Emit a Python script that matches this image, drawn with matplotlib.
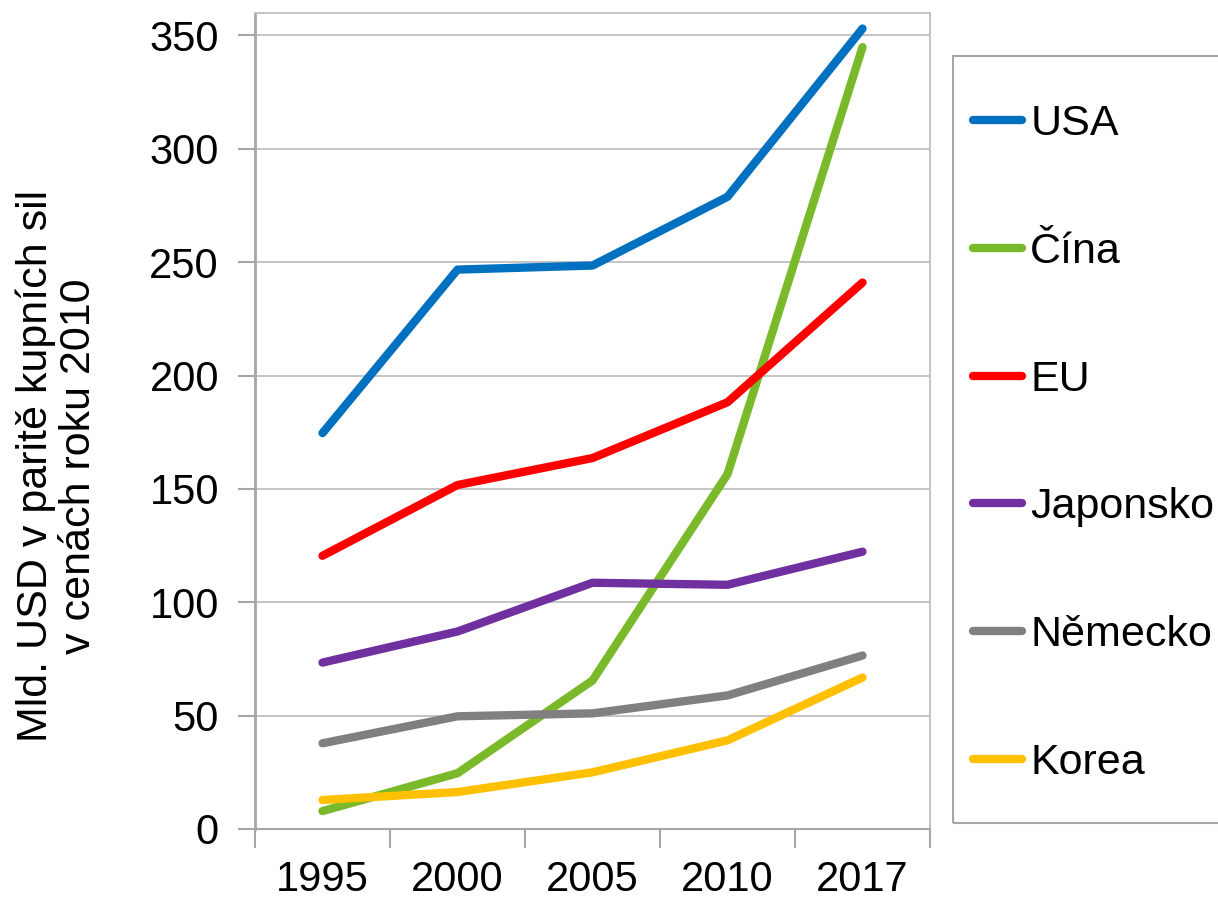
import matplotlib
matplotlib.use("Agg")
import matplotlib.pyplot as plt
from matplotlib.patches import Rectangle
import numpy as np

plt.rcParams['font.family'] = ['Liberation Sans', 'DejaVu Sans']

years = ["1995", "2000", "2005", "2010", "2017"]
usa = [174.6, 246.7, 248.5, 278.8, 353.0]
cina = [7.9, 24.6, 65.5, 156.5, 344.8]
eu = [120.5, 151.7, 163.6, 188.2, 241.0]
japonsko = [73.4, 87.1, 108.6, 107.7, 122.3]
nemecko = [37.8, 49.7, 51.0, 58.9, 76.5]
korea = [12.8, 16.3, 25.0, 39.1, 66.8]

series = [
    ("USA", usa, "#0070C0"),
    ("Čína", cina, "#7AB929"),
    ("EU", eu, "#FF0000"),
    ("Japonsko", japonsko, "#7030A0"),
    ("Německo", nemecko, "#808080"),
    ("Korea", korea, "#FFC000"),
]

W, H = 1218, 899
fig = plt.figure(figsize=(W/100, H/100), dpi=100)
ax = fig.add_axes([255/W, 1 - 829/H, (930-255)/W, (829-12.7)/H])

x = np.arange(len(years))
handles = []
for name, vals, col in series:
    h, = ax.plot(x, vals, color=col, lw=6, solid_capstyle='round', solid_joinstyle='round', label=name)
    handles.append(h)

ax.set_xlim(-0.5, len(years) - 0.5)
ax.set_ylim(0, 360)
ax.set_yticks(np.arange(0, 351, 50))
ax.set_xticks(x)
ax.set_xticklabels(years)
ax.set_xticks(np.arange(-0.5, len(years), 1.0), minor=True)
ax.tick_params(axis='x', which='major', length=0, labelsize=30, pad=22)
ax.tick_params(axis='x', which='minor', length=14, width=1.5, color='#A6A6A6')
ax.tick_params(axis='y', which='major', length=12, width=1.5, color='#A6A6A6', labelsize=30, pad=14)
ax.grid(axis='y', color='#BFBFBF', lw=1.3)
ax.set_axisbelow(True)
for s in ax.spines.values():
    s.set_color('#BFBFBF')
    s.set_linewidth(1.3)
ax.spines['left'].set_color('#A6A6A6')
ax.spines['left'].set_linewidth(2)
ax.spines['bottom'].set_color('#A6A6A6')
ax.spines['bottom'].set_linewidth(1.5)

fig.text(57/W, 1 - 466/H, "Mld. USD v paritě kupních sil\nv cenách roku 2010", fontsize=31,
         rotation=90, ha='center', va='center', multialignment='center', linespacing=1.1)

# legend frame
fig.patches.append(Rectangle((953/W, 1 - 823/H), (1240-953)/W, (823-56)/H, transform=fig.transFigure,
                             fill=False, edgecolor='#A6A6A6', lw=1.5))
leg = fig.legend(handles=handles, loc='center left', bbox_to_anchor=(973/W, 1 - 443.5/H),
                 frameon=False, fontsize=31, handlelength=1.14, handletextpad=0.19,
                 labelspacing=2.04, borderpad=0, borderaxespad=0)

fig.savefig("out.png", dpi=100)
